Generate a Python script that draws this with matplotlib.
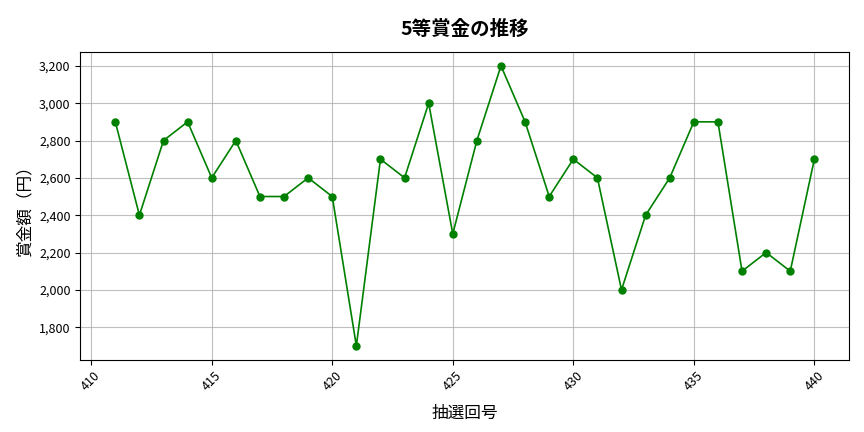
import matplotlib
matplotlib.use("Agg")
import matplotlib.pyplot as plt
from matplotlib.ticker import FuncFormatter

plt.rcParams['font.family'] = ['Noto Sans CJK JP', 'DejaVu Sans']

draws = list(range(411, 441))
prizes = [2900, 2400, 2800, 2900, 2600, 2800, 2500, 2500, 2600, 2500,
          1700, 2700, 2600, 3000, 2300, 2800, 3200, 2900, 2500, 2700,
          2600, 2000, 2400, 2600, 2900, 2900, 2100, 2200, 2100, 2700]

fig = plt.figure(figsize=(8.64, 4.32), dpi=100)
ax = fig.add_axes([0.093, 0.167, 0.89, 0.713])
ax.plot(draws, prizes, color='green', marker='o', markersize=5, linewidth=1.2)
ax.set_title('5等賞金の推移', fontsize=14, fontweight='bold', pad=12)
ax.set_xlabel('抽選回号', fontsize=12, labelpad=8)
ax.set_ylabel('賞金額（円）', fontsize=12)
ax.grid(True, color='#b0b0b0', linewidth=0.8, alpha=0.8)
ax.yaxis.set_major_formatter(FuncFormatter(lambda v, p: f'{int(v):,}'))
ax.tick_params(axis='both', labelsize=9)
plt.setp(ax.get_xticklabels(), rotation=45)
fig.savefig('out.png', dpi=100)
